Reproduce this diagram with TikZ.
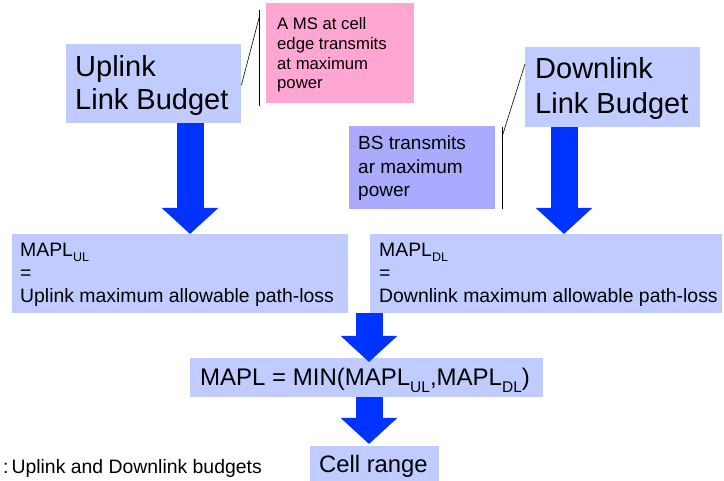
\documentclass[tikz,border=0pt]{standalone}
\usepackage{fontspec}
\setmainfont{Liberation Sans}
\usetikzlibrary{arrows.meta}
\definecolor{boxblue}{RGB}{192,204,255}
\definecolor{arrowblue}{RGB}{0,51,255}
\definecolor{notepink}{RGB}{255,166,210}
\definecolor{notelav}{RGB}{170,170,255}
\newcommand\lowsub[3]{\raisebox{-#1}{\fontsize{#2}{#2}\selectfont #3}}
\begin{document}
\begin{tikzpicture}[x=1pt,y=-1pt,
  box/.style={fill=#1, draw=none, inner sep=0pt, anchor=north west},
  box/.default=boxblue,
  txt/.style={anchor=base west, inner sep=0pt, align=left, text=black},
  bigarrow/.style={draw=arrowblue, line width=27pt, -{Triangle[width=55pt,length=26pt]}},
  callout/.style={draw=black, line width=0.6pt}]
\useasboundingbox (0,0) rectangle (724,481);

% boxes
\node[box, minimum width=175pt, minimum height=79pt] (ub) at (66,44) {};
\node[box, minimum width=175pt, minimum height=80pt] (db) at (525,47) {};
\node[box=notepink, minimum width=148pt, minimum height=100pt] (pink) at (266,3) {};
\node[box=notelav, minimum width=146pt, minimum height=83pt] (lav) at (349,126) {};
\node[box, minimum width=336pt, minimum height=79pt] (ulm) at (12,234) {};
\node[box, minimum width=352pt, minimum height=79pt] (dlm) at (370,234) {};
\node[box, minimum width=353pt, minimum height=39pt] (mapl) at (190,358) {};
\node[box, minimum width=129pt, minimum height=35pt] (cell) at (310,446) {};

% texts (anchor = baseline of the last line)
\node[txt, font={\fontsize{29}{33}\selectfont}] (ubt) at (75,110) {Uplink\\Link Budget};
\node[txt, font={\fontsize{29}{35}\selectfont}] (dbt) at (535,114) {Downlink\\Link Budget};
\node[txt, font={\fontsize{16.7}{19.7}\selectfont}] (pinkt) at (277,89) {A MS at cell\\edge transmits\\at maximum\\power};
\node[txt, font={\fontsize{19}{23.5}\selectfont}] (lavt) at (358,197) {BS transmits\\ar maximum\\power};
\node[txt, font={\fontsize{19.4}{23}\selectfont}] (ulmt) at (20,303) {MAPL\lowsub{5pt}{12.5}{UL}\\=\\Uplink maximum allowable path-loss};
\node[txt, font={\fontsize{19.4}{23}\selectfont}] (dlmt) at (379,303) {MAPL\lowsub{5pt}{12.5}{DL}\\=\\Downlink maximum allowable path-loss};
\node[txt, font={\fontsize{24}{28}\selectfont}] (maplt) at (200,386) {MAPL = MIN(MAPL\lowsub{7pt}{15.5}{UL},MAPL\lowsub{7pt}{15.5}{DL})};
\node[txt, font={\fontsize{23.8}{27}\selectfont}] (cellt) at (319,473) {Cell range};
\node[txt, font={\fontsize{19.4}{23}\selectfont}] (cap) at (3,474) {:\kern3pt Uplink and Downlink budgets};

% arrow axes
\coordinate (ax1) at (190,0);
\coordinate (ax2) at (564,0);
\coordinate (ax3) at (369,0);

\draw[bigarrow] (ub.south -| ax1) -- (ulm.north -| ax1);
\draw[bigarrow] (db.south -| ax2) -- (dlm.north -| ax2);
\draw[bigarrow] (ulm.south -| ax3) -- ([yshift=-4pt]mapl.north -| ax3);
\draw[bigarrow] (mapl.south -| ax3) -- ([yshift=2pt]cell.north -| ax3);

% callouts
\coordinate (v1a) at (259,10);
\coordinate (v1b) at (259,106);
\coordinate (k1) at (259,18);
\draw[callout] (v1a) -- (v1b);
\draw[callout] ([yshift=-1.5pt]ub.east) -- (k1);
\coordinate (v2a) at (502,127);
\coordinate (v2b) at (502,209);
\coordinate (k2) at (502,137);
\draw[callout] (v2a) -- (v2b);
\draw[callout] (k2) -- ([yshift=-17pt]db.north west);
\end{tikzpicture}
\end{document}
